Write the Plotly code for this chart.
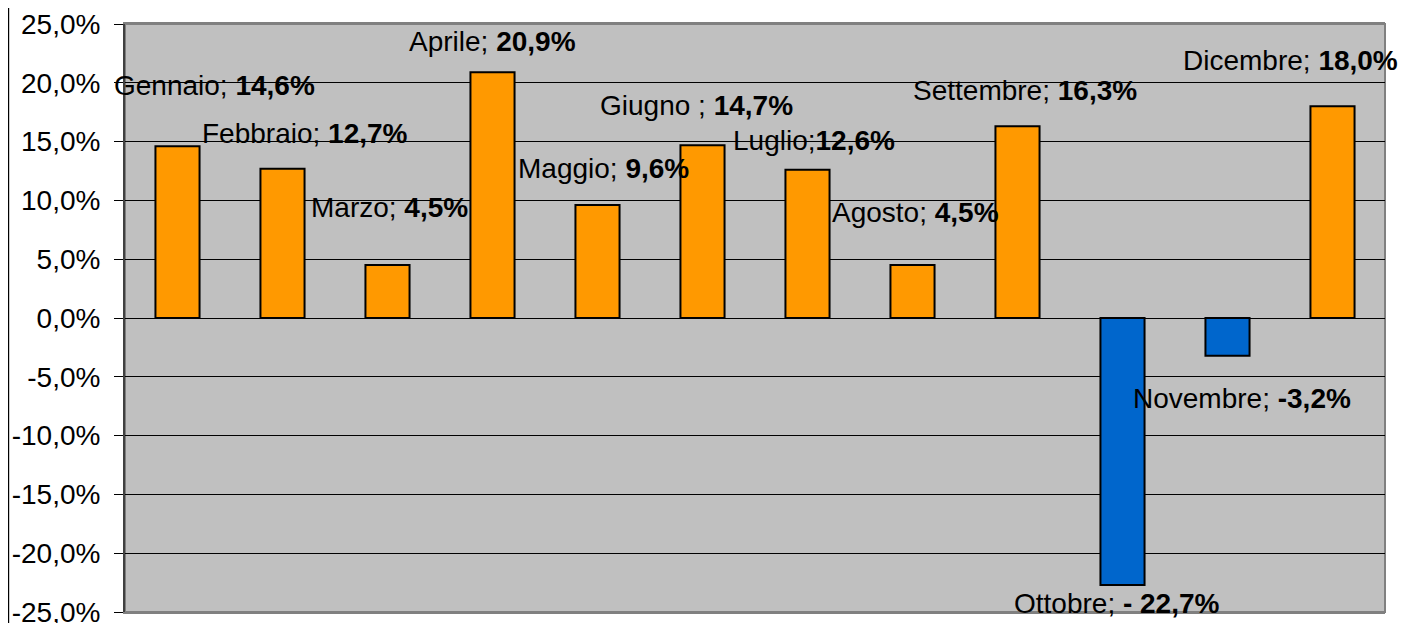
import plotly.graph_objects as go

# monthly change, percent
months = ["Gennaio", "Febbraio", "Marzo", "Aprile", "Maggio", "Giugno",
          "Luglio", "Agosto", "Settembre", "Ottobre", "Novembre", "Dicembre"]
values = [14.6, 12.7, 4.5, 20.9, 9.6, 14.7, 12.6, 4.5, 16.3, -22.7, -3.2, 18.0]
label_texts = ["Gennaio; <b>14,6%</b>", "Febbraio; <b>12,7%</b>", "Marzo; <b>4,5%</b>",
               "Aprile; <b>20,9%</b>", "Maggio; <b>9,6%</b>", "Giugno ; <b>14,7%</b>",
               "Luglio;<b>12,6%</b>", "Agosto; <b>4,5%</b>", "Settembre; <b>16,3%</b>",
               "Ottobre; <b>- 22,7%</b>", "Novembre; <b>-3,2%</b>", "Dicembre; <b>18,0%</b>"]
y_ticks = [25, 20, 15, 10, 5, 0, -5, -10, -15, -20, -25]

# manual label offsets (pixels) like the hand-placed labels of the original
label_dx = [37, 22, 2, 0, 6, -6, 6, 3, 7, -6, 14, -42]
label_dy = [61, 35, 58, 31, 37, 40, 29, 53, 36, -19, -43, 46]

FONT = "Liberation Sans, Arial, sans-serif"
colors = ["#FF9900" if v >= 0 else "#0066CC" for v in values]

fig = go.Figure()
fig.add_trace(
    go.Bar(
        x=months,
        y=values,
        width=0.42,
        marker=dict(color=colors, line=dict(color="black", width=2)),
        showlegend=False,
        hovertemplate="%{x}: %{y:.1f}%<extra></extra>",
    )
)

for i, m in enumerate(months):
    fig.add_annotation(
        x=m, y=values[i], xref="x", yref="y",
        text=label_texts[i], showarrow=False,
        xshift=label_dx[i], yshift=label_dy[i],
        font=dict(family=FONT, size=28, color="black"),
    )

# chart-area left border
fig.add_shape(type="line", xref="paper", yref="paper",
              x0=-0.0925, x1=-0.0925, y0=-0.03, y1=1.05,
              line=dict(color="black", width=1.5))
# plot-area frame
fig.add_shape(type="rect", xref="paper", yref="paper", x0=0, x1=1, y0=0, y1=1,
              line=dict(color="#808080", width=2), layer="below")

fig.update_layout(
    width=1401,
    height=615,
    margin=dict(l=117, r=24, t=16, b=11),
    paper_bgcolor="white",
    plot_bgcolor="#C0C0C0",
    separators=",.",
    font=dict(family=FONT, size=28, color="black"),
    xaxis=dict(range=[-0.5, len(months) - 0.5], showticklabels=False,
               showgrid=False, zeroline=False, automargin=False,
               showline=True, linecolor="#808080", linewidth=2, mirror=True,
               ticks=""),
    yaxis=dict(range=[-25, 25], tickvals=y_ticks,
               ticktext=[f"{v:.1f}%".replace(".", ",") for v in y_ticks],
               showgrid=True, gridcolor="black", gridwidth=1, automargin=False,
               zeroline=False, showline=True, linecolor="#404040", linewidth=2,
               mirror=False, ticks="outside", ticklen=9, tickcolor="black",
               ticklabelstandoff=8, ticklabeloverflow="allow",
               tickfont=dict(family=FONT, size=28)),
)

fig.write_html("out.html")
